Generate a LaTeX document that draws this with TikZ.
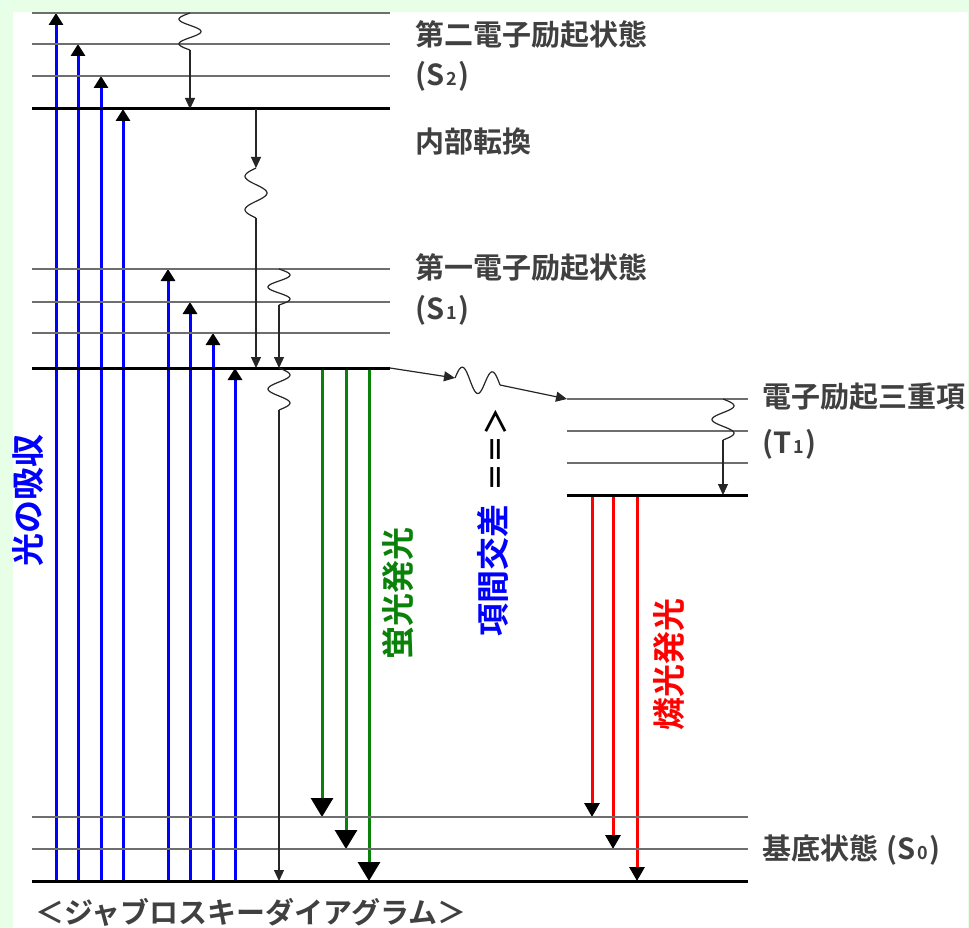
\documentclass[tikz,border=0pt]{standalone}
\usepackage{fontspec}
\usepackage{tikz}
\usetikzlibrary{arrows.meta}
\newfontfamily\jpfont{Noto Sans CJK JP}[BoldFont={Noto Sans CJK JP Bold}]
\definecolor{pagebg}{RGB}{230,255,230}
\definecolor{levelgray}{RGB}{110,110,110}
\definecolor{textgray}{RGB}{64,64,64}
\definecolor{fluogreen}{RGB}{10,130,10}
\newcommand{\lvsub}[1]{\hspace{2pt}{\fontsize{18}{18}\selectfont #1}\hspace{2pt}}

\tikzset{
	lvthin/.style={draw=levelgray, line width=1.5pt},
	lvthick/.style={draw=black, line width=3pt},
	absorb/.style={draw=blue, line width=3pt, -{Triangle[color=black,width=14pt,length=12pt]}},
	fluor/.style={draw=fluogreen, line width=3pt, -{Triangle[color=black,width=22pt,length=19pt]}},
	phos/.style={draw=red, line width=3pt, -{Triangle[color=black,width=15pt,length=14pt]}},
	relaxarrow/.style={draw=black!85, line width=1.2pt, -{Triangle[width=10pt,length=11pt]}},
	wiggle/.style={draw=black!85, line width=1.2pt, smooth, samples=40, domain=0:1},
	jtext/.style={text=textgray, font=\jpfont\bfseries\fontsize{29}{29}\selectfont, anchor=west, inner sep=0pt},
	vtext/.style={font=\jpfont\bfseries\fontsize{33}{33}\selectfont, rotate=90, inner sep=0pt}
}

\begin{document}
\begin{tikzpicture}[x=1pt,y=-1pt]
	\useasboundingbox (0,0) rectangle (969,928);
	\fill[pagebg] (0,0) rectangle (969,928);
	\fill[white] (13,12) rectangle (968,928);

	% Absorption, from the ground state up
	\draw[absorb] (56,881) -- (56,13);
	\draw[absorb] (78,881) -- (78,44);
	\draw[absorb] (101,881) -- (101,76);
	\draw[absorb] (123,881) -- (123,109);
	\draw[absorb] (168,881) -- (168,269);
	\draw[absorb] (190,881) -- (190,302);
	\draw[absorb] (213,881) -- (213,333);
	\draw[absorb] (235,881) -- (235,368);

	% Fluorescence
	\draw[fluor] (322,368) -- (322,817);
	\draw[fluor] (346,368) -- (346,849);
	\draw[fluor] (369,368) -- (369,881);

	% Phosphorescence
	\draw[phos] (592,495) -- (592,817);
	\draw[phos] (613,495) -- (613,849);
	\draw[phos] (637,495) -- (637,881);

	% Energy levels S2, S1, T1, S0
	\draw[lvthin] (32,13) -- (390,13);
	\draw[lvthin] (32,44) -- (390,44);
	\draw[lvthin] (32,76) -- (390,76);
	\draw[lvthick] (32,109) -- (390,109);
	\draw[lvthin] (32,269) -- (390,269);
	\draw[lvthin] (32,302) -- (390,302);
	\draw[lvthin] (32,333) -- (390,333);
	\draw[lvthick] (32,368) -- (390,368);
	\draw[lvthin] (567,399) -- (748,399);
	\draw[lvthin] (567,431) -- (748,431);
	\draw[lvthin] (567,463) -- (748,463);
	\draw[lvthick] (567,495) -- (748,495);
	\draw[lvthin] (32,817) -- (748,817);
	\draw[lvthin] (32,849) -- (748,849);
	\draw[lvthick] (32,881) -- (748,881);

	% Vibrational relaxation and internal conversion
	\draw[wiggle] plot ({190-11*sin(540*\x)}, {13+37*\x});
	\draw[relaxarrow] (190,50) -- (190,109);
	\draw[relaxarrow] (256,109) -- (256,168);
	\draw[wiggle] plot ({256-11*sin(540*\x)}, {168+50*\x});
	\draw[relaxarrow] (256,218) -- (256,368);
	\draw[wiggle] plot ({279+11*sin(540*\x)}, {269+36*\x});
	\draw[relaxarrow] (279,305) -- (279,368);
	\draw[wiggle] plot ({279+11*sin(540*\x)}, {368+42*\x});
	\draw[relaxarrow] (279,410) -- (279,881);
	\draw[wiggle] plot ({723+11*sin(540*\x)}, {399+41*\x});
	\draw[relaxarrow] (723,440) -- (723,495);

	% Intersystem crossing
	\draw[relaxarrow] (390,368) -- (455,378);
	\draw[wiggle] plot ({455+45*\x}, {378+7*\x-12*sin(540*\x)});
	\draw[relaxarrow] (500,385) -- (567,399);
	\node (iscmark) [font=\jpfont\bfseries\fontsize{28}{28}\selectfont, rotate=90, inner sep=0pt] at (496,449) {＝＝＞};

	% State names
	\node (s2name) [jtext] at (415,35) {第二電子励起状態};
	\node (s2sym) [jtext] at (415,76) {(S\lvsub{2})};
	\node (icname) [jtext] at (415,141) {内部転換};
	\node (s1name) [jtext] at (415,268) {第一電子励起状態};
	\node (s1sym) [jtext] at (415,310) {(S\lvsub{1})};
	\node (t1name) [jtext] at (762,397) {電子励起三重項};
	\node (t1sym) [jtext] at (762,444) {(T\lvsub{1})};
	\node (s0name) [jtext] at (762,850) {基底状態\hspace{8pt}(S\lvsub{0})};
	\node (title) [jtext] at (35,912) {＜ジャブロスキーダイアグラム＞};

	% Process names, set upright
	\node (absname) [vtext, text=blue] at (28,500) {光の吸収};
	\node (fluname) [vtext, text=fluogreen] at (398,593) {蛍光発光};
	\node (iscname) [vtext, text=blue] at (493,570) {項間交差};
	\node (phoname) [vtext, text=red] at (669,664) {燐光発光};
\end{tikzpicture}
\end{document}
